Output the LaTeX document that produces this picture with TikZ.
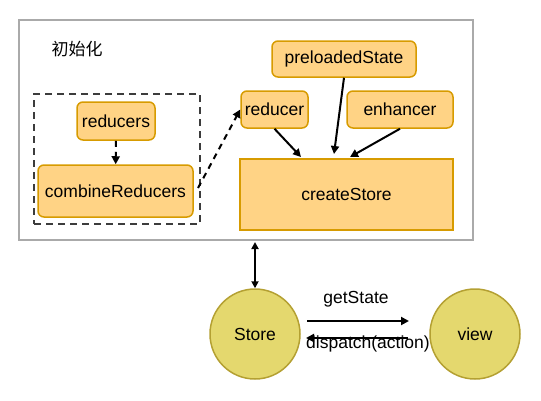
\documentclass[tikz,border=0pt]{standalone}
\usepackage{fontspec}
\setmainfont{Liberation Sans}
\newfontfamily\cjk{Noto Sans CJK SC}
\usetikzlibrary{arrows.meta}
\definecolor{boxfill}{RGB}{255,211,133}
\definecolor{boxdraw}{RGB}{215,155,0}
\definecolor{circfill}{RGB}{228,216,110}
\definecolor{circdraw}{RGB}{180,160,50}
\definecolor{framegray}{RGB}{170,170,170}
\definecolor{dashgray}{RGB}{60,60,60}
\tikzset{
  orbox/.style={draw=boxdraw, fill=boxfill, line width=1.5pt, rounded corners=6pt, inner sep=0pt, font=\fontsize{17.5}{19}\selectfont},
  sqbox/.style={draw=boxdraw, fill=boxfill, line width=1.5pt, inner sep=0pt, font=\fontsize{17.5}{19}\selectfont},
  circ/.style={circle, draw=circdraw, fill=circfill, line width=1.5pt, minimum size=90pt, inner sep=0pt, font=\fontsize{17.5}{19}\selectfont},
  arr/.style={line width=2pt, -{Triangle[length=8pt,width=8pt]}},
  darr/.style={line width=2pt, dash pattern=on 6pt off 5pt, -{Triangle[length=8pt,width=8pt]}},
  lbl/.style={font=\fontsize{17.5}{19}\selectfont, inner sep=0pt},
}
\begin{document}
\begin{tikzpicture}[x=1pt,y=-1pt]
\useasboundingbox (0,0) rectangle (541,400);
% outer frame
\node[draw=framegray, line width=1.2pt, minimum width=454pt, minimum height=220pt, inner sep=0pt] (frame) at (246,130) {};
\node[lbl, font=\cjk\fontsize{17}{19}\selectfont] (title) at (77,49) {初始化};
% dashed group
\node[draw=dashgray, line width=2pt, dash pattern=on 7pt off 5pt, minimum width=166pt, minimum height=130pt, inner sep=0pt] (group) at (117,159) {};
\node[orbox, minimum width=78pt, minimum height=38pt] (reducers) at (116,121) {reducers};
\node[orbox, minimum width=155pt, minimum height=52pt] (combine) at (115.5,191) {combineReducers};
\node[orbox, minimum width=144pt, minimum height=36pt] (pre) at (344,59) {preloadedState};
\node[orbox, minimum width=67pt, minimum height=37pt] (reducer) at (274.5,109.5) {reducer};
\node[orbox, minimum width=106pt, minimum height=37pt] (enh) at (400,109.5) {enhancer};
\node[sqbox, minimum width=213pt, minimum height=71pt] (cs) at (346.5,194.5) {createStore};
% coordinates for connectors
\coordinate (csA) at (301,157);
\coordinate (csB) at (334,154);
\coordinate (csC) at (350,157);
\coordinate (combR) at (198,188);
\draw[darr] (reducers) -- (combine);
\draw[darr] (combR) -- (reducer.west);
\draw[arr] (reducer.south) -- (csA);
\draw[arr] (pre.south) -- (csB);
\draw[arr] (enh.south) -- (csC);
% bottom
\node[circ] (store) at (255,334) {Store};
\node[circ] (view) at (475,334) {view};
\coordinate (top) at (255,242);
\coordinate (g1) at (307,321);
\coordinate (g2) at (409,321);
\coordinate (d1) at (408,338);
\coordinate (d2) at (306,338);
\draw[line width=2pt, {Triangle[length=7pt,width=7pt]}-{Triangle[length=7pt,width=7pt]}] (top) -- (store.north);
\draw[arr] (g1) -- (g2);
\draw[arr] (d1) -- (d2);
\node[lbl] (gs) at (356,299) {getState};
\node[lbl] (disp) at (368,344) {dispatch(action)};
\end{tikzpicture}
\end{document}
